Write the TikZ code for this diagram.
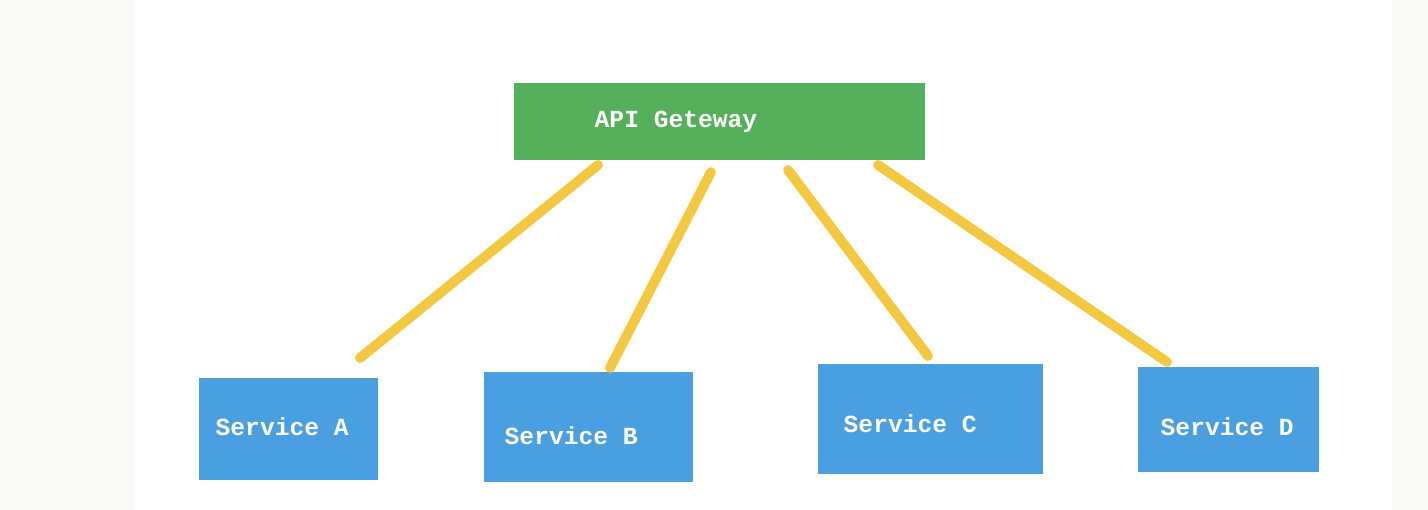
\documentclass[tikz,border=0pt]{standalone}
\usepackage{fontspec}
\setmonofont{Liberation Mono}
\definecolor{gwgreen}{HTML}{56AF5A}
\definecolor{svblue}{HTML}{4A9FE0}
\definecolor{linkyellow}{HTML}{F5C842}
\definecolor{paper}{HTML}{FAFAF7}
\begin{document}
\begin{tikzpicture}[x=0.01cm,y=-0.01cm,
  box/.style={draw=none,inner sep=0pt,outer sep=0pt,anchor=north west},
  lbl/.style={anchor=west,inner sep=0pt,text=white,font=\fontsize{7}{8}\selectfont\ttfamily\bfseries},
  link/.style={draw=linkyellow,line width=2.8pt,line cap=round}]
\useasboundingbox (0,0) rectangle (1428,510);
\fill[white] (0,0) rectangle (1428,510);
\fill[paper] (0,0) rectangle (135,510);
\fill[paper] (1392,0) rectangle (1428,510);
% boxes
\node[box,fill=gwgreen,minimum width=4.11cm,minimum height=0.77cm] (gw) at (514,83) {};
\node[box,fill=svblue,minimum width=1.79cm,minimum height=1.02cm] (A) at (199,378) {};
\node[box,fill=svblue,minimum width=2.09cm,minimum height=1.10cm] (B) at (484,372) {};
\node[box,fill=svblue,minimum width=2.25cm,minimum height=1.10cm] (C) at (818,364) {};
\node[box,fill=svblue,minimum width=1.81cm,minimum height=1.05cm] (D) at (1138,367) {};
% labels
\node[lbl] (gwt) at (594,122) {API Geteway};
\node[lbl] (At) at (215,427) {Service A};
\node[lbl] (Bt) at (504,436) {Service B};
\node[lbl] (Ct) at (843,424) {Service C};
\node[lbl] (Dt) at (1160,427) {Service D};
% connector ends
\coordinate (g1) at (598,165);
\coordinate (g2) at (711,172);
\coordinate (g3) at (788,170);
\coordinate (g4) at (878,165);
\coordinate (a1) at (360,358);
\coordinate (b1) at (610,368);
\coordinate (c1) at (928,356);
\coordinate (d1) at (1167,362);
\draw[link] (g1) -- (a1);
\draw[link] (g2) -- (b1);
\draw[link] (g3) -- (c1);
\draw[link] (g4) -- (d1);
\end{tikzpicture}
\end{document}
